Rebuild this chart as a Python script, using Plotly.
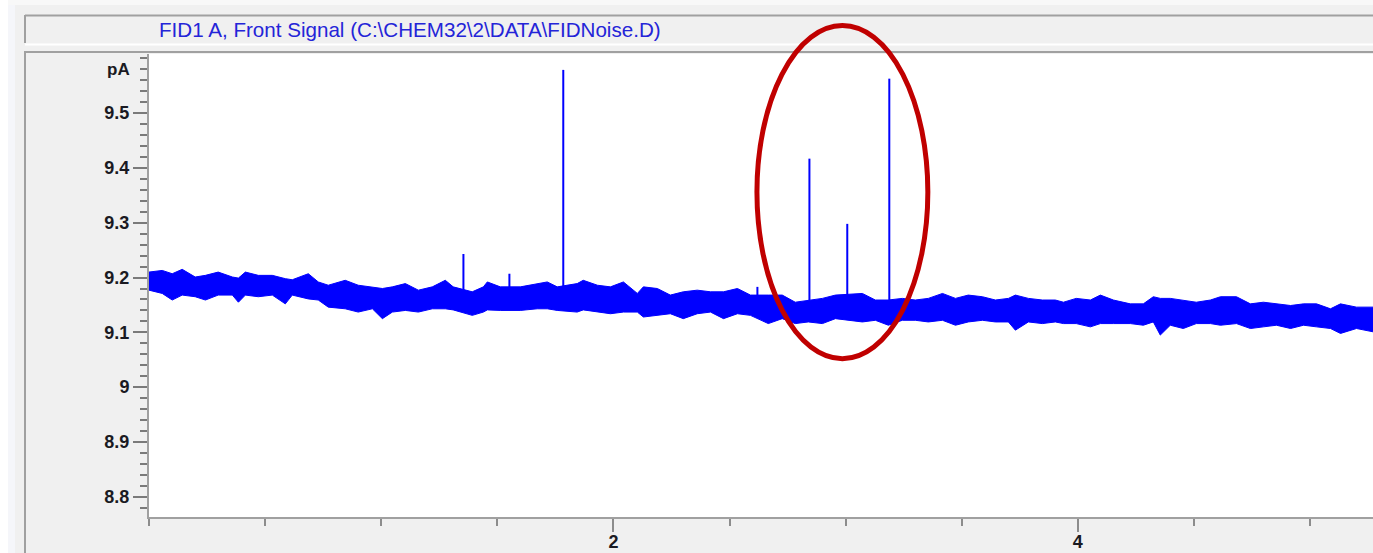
import plotly.graph_objects as go

# ---------------- data ----------------
time_min = [0.000, 0.057, 0.100, 0.143, 0.199, 0.243, 0.298, 0.359, 0.385, 0.415,
            0.471, 0.531, 0.587, 0.617, 0.686, 0.729, 0.772, 0.845, 0.901, 0.962,
            1.005, 1.048, 1.104, 1.160, 1.220, 1.276, 1.310, 1.392, 1.440, 1.457,
            1.513, 1.599, 1.672, 1.715, 1.758, 1.844, 1.870, 1.931, 1.987, 2.043,
            2.103, 2.129, 2.189, 2.245, 2.301, 2.361, 2.418, 2.474, 2.534, 2.590,
            2.667, 2.727, 2.783, 2.839, 2.900, 2.956, 3.072, 3.128, 3.184, 3.244,
            3.300, 3.356, 3.417, 3.473, 3.528, 3.589, 3.645, 3.701, 3.731, 3.787,
            3.847, 3.903, 3.938, 3.993, 4.054, 4.097, 4.153, 4.226, 4.282, 4.325,
            4.355, 4.398, 4.454, 4.510, 4.571, 4.614, 4.683, 4.743, 4.799, 4.855,
            4.916, 4.972, 5.028, 5.088, 5.131, 5.200, 5.271]

noise_upper_pA = [9.210, 9.213, 9.207, 9.215, 9.201, 9.204, 9.210, 9.201, 9.199, 9.210,
                  9.204, 9.204, 9.198, 9.196, 9.207, 9.192, 9.186, 9.195, 9.186, 9.183,
                  9.180, 9.183, 9.189, 9.177, 9.183, 9.195, 9.183, 9.174, 9.183, 9.192,
                  9.183, 9.183, 9.189, 9.192, 9.183, 9.189, 9.195, 9.186, 9.183, 9.192,
                  9.171, 9.183, 9.180, 9.168, 9.174, 9.177, 9.174, 9.174, 9.180, 9.168,
                  9.168, 9.168, 9.155, 9.159, 9.162, 9.168, 9.171, 9.159, 9.159, 9.162,
                  9.159, 9.162, 9.171, 9.162, 9.168, 9.165, 9.159, 9.162, 9.168, 9.162,
                  9.159, 9.159, 9.155, 9.162, 9.159, 9.168, 9.159, 9.152, 9.152, 9.165,
                  9.162, 9.162, 9.159, 9.155, 9.159, 9.165, 9.165, 9.152, 9.155, 9.152,
                  9.149, 9.152, 9.152, 9.143, 9.152, 9.146, 9.146]

noise_lower_pA = [9.177, 9.171, 9.159, 9.168, 9.165, 9.159, 9.168, 9.168, 9.155, 9.168,
                  9.165, 9.168, 9.152, 9.168, 9.161, 9.159, 9.146, 9.143, 9.137, 9.143,
                  9.125, 9.137, 9.140, 9.137, 9.143, 9.143, 9.141, 9.131, 9.137, 9.141,
                  9.140, 9.140, 9.143, 9.143, 9.140, 9.137, 9.141, 9.137, 9.134, 9.137,
                  9.137, 9.128, 9.131, 9.134, 9.125, 9.134, 9.137, 9.125, 9.134, 9.131,
                  9.116, 9.125, 9.116, 9.119, 9.116, 9.125, 9.119, 9.122, 9.113, 9.122,
                  9.122, 9.119, 9.122, 9.113, 9.119, 9.122, 9.119, 9.119, 9.104, 9.119,
                  9.116, 9.119, 9.116, 9.116, 9.110, 9.116, 9.116, 9.116, 9.113, 9.119,
                  9.095, 9.113, 9.107, 9.116, 9.116, 9.113, 9.116, 9.107, 9.110, 9.113,
                  9.107, 9.113, 9.110, 9.107, 9.098, 9.107, 9.101]

spike_time = [1.354, 1.552, 1.784, 2.620, 2.844, 3.007, 3.188]
spike_base_pA = [9.160, 9.160, 9.160, 9.150, 9.140, 9.145, 9.140]
spike_peak_pA = [9.243, 9.207, 9.579, 9.183, 9.417, 9.298, 9.563]

# circled region (annotation), in data units
circle_time = [2.618, 3.354]
circle_pA = [9.052, 9.660]

y_tick_vals = [8.8, 8.9, 9.0, 9.1, 9.2, 9.3, 9.4, 9.5]
y_tick_text = ["8.8", "8.9", "9", "9.1", "9.2", "9.3", "9.4", "9.5"]
x_tick_vals = [2, 4]
x_tick_text = ["2", "4"]

title_text = "FID1 A, Front Signal (C:\\CHEM32\\2\\DATA\\FIDNoise.D)"
unit_text = "pA"

# ---------------- layout geometry ----------------
W, H = 1373, 553
L, T, B, R = 149, 54, 36, 0
PW, PH = W - L - R, H - T - B
x_range = [0.0, 5.271]
y_range = [8.763, 9.608]


def px_x(px):
    """page pixel x -> paper coordinate"""
    return (px - L) / PW


def px_y(py):
    """page pixel y -> paper coordinate"""
    return (H - B - py) / PH


def data_x(t):
    return (t - x_range[0]) / (x_range[1] - x_range[0])


def data_y(v):
    return (v - y_range[0]) / (y_range[1] - y_range[0])


BLUE = "#0000ff"
fig = go.Figure()

fig.add_trace(go.Scatter(x=time_min, y=noise_lower_pA, mode="lines",
                         line=dict(color=BLUE, width=1),
                         hoverinfo="skip", showlegend=False))
fig.add_trace(go.Scatter(x=time_min, y=noise_upper_pA, mode="lines",
                         line=dict(color=BLUE, width=1),
                         fill="tonexty", fillcolor=BLUE,
                         hoverinfo="skip", showlegend=False))

sx, sy = [], []
for t, b, p in zip(spike_time, spike_base_pA, spike_peak_pA):
    sx += [t, t, None]
    sy += [b, p, None]
fig.add_trace(go.Scatter(x=sx, y=sy, mode="lines",
                         line=dict(color=BLUE, width=2),
                         hoverinfo="skip", showlegend=False))

FRAME = "#a0a0a0"
shapes = [
    # outer window edge
    dict(type="rect", xref="paper", yref="paper", x0=px_x(-2), x1=px_x(8), y0=px_y(560), y1=px_y(-2),
         fillcolor="#ffffff", line=dict(width=0), layer="below"),
    dict(type="rect", xref="paper", yref="paper", x0=px_x(8), x1=px_x(15), y0=px_y(560), y1=px_y(5),
         fillcolor="#f5f6fa", line=dict(width=0), layer="below"),
    dict(type="rect", xref="paper", yref="paper", x0=px_x(8), x1=px_x(1380), y0=px_y(5), y1=px_y(-2),
         fillcolor="#f8f8f8", line=dict(width=0), layer="below"),
    # title box (sunken)
    dict(type="line", xref="paper", yref="paper", x0=px_x(25), x1=px_x(1380), y0=px_y(15.5), y1=px_y(15.5),
         line=dict(color=FRAME, width=2)),
    dict(type="line", xref="paper", yref="paper", x0=px_x(25), x1=px_x(25), y0=px_y(15), y1=px_y(43),
         line=dict(color=FRAME, width=2)),
    dict(type="line", xref="paper", yref="paper", x0=px_x(25), x1=px_x(1380), y0=px_y(44.5), y1=px_y(44.5),
         line=dict(color="#ffffff", width=2)),
    # plot panel border
    dict(type="line", xref="paper", yref="paper", x0=px_x(25), x1=px_x(1380), y0=px_y(52), y1=px_y(52),
         line=dict(color=FRAME, width=2)),
    dict(type="line", xref="paper", yref="paper", x0=px_x(25), x1=px_x(25), y0=px_y(51), y1=px_y(560),
         line=dict(color=FRAME, width=2)),
    # red ellipse marking the spikes
    dict(type="circle", xref="paper", yref="paper",
         x0=data_x(circle_time[0]), x1=data_x(circle_time[1]),
         y0=data_y(circle_pA[0]), y1=data_y(circle_pA[1]),
         line=dict(color="#c00000", width=5), layer="above"),
]

annotations = [
    dict(text=title_text, xref="paper", yref="paper", x=px_x(157), y=px_y(30),
         xanchor="left", yanchor="middle", showarrow=False,
         font=dict(family="Liberation Sans, Arial", size=20.6, color="#2424d8")),
    dict(text=unit_text, xref="paper", yref="y", x=px_x(132), y=9.58,
         xanchor="right", yanchor="middle", showarrow=False,
         font=dict(family="Liberation Sans, Arial", size=17, color="#1a1a22", weight="bold")),
]

tickfont = dict(family="Liberation Sans, Arial", size=18, color="#1a1a22", weight="bold")

fig.update_layout(
    width=W, height=H,
    margin=dict(l=L, r=R, t=T, b=B, pad=0, autoexpand=False),
    paper_bgcolor="#f0f0f0", plot_bgcolor="#ffffff",
    shapes=shapes, annotations=annotations,
    showlegend=False,
    xaxis=dict(range=x_range, tickmode="array", tickvals=x_tick_vals, ticktext=x_tick_text,
               ticks="outside", ticklen=13, tickwidth=2, tickcolor="#8c8c8c",
               ticklabelstandoff=-6,
               showline=True, linecolor=FRAME, linewidth=2, mirror=False,
               showgrid=False, zeroline=False, tickfont=tickfont, automargin=False,
               minor=dict(tickmode="linear", tick0=0, dtick=0.5, ticks="outside",
                          ticklen=7, tickwidth=2, tickcolor="#8c8c8c", showgrid=False)),
    yaxis=dict(range=y_range, tickmode="array", tickvals=y_tick_vals, ticktext=y_tick_text,
               ticks="outside", ticklen=14, tickwidth=1.5, tickcolor="#7a7a7a",
               showline=True, linecolor=FRAME, linewidth=2, mirror=False,
               showgrid=False, zeroline=False, tickfont=tickfont, automargin=False,
               minor=dict(tickmode="linear", tick0=8.8, dtick=0.02, ticks="outside",
                          ticklen=7, tickwidth=1.5, tickcolor="#7a7a7a", showgrid=False)),
)

# remove the browser's default 8px body margin so the figure fills the window
fig.write_html("out.html",
               config={"displayModeBar": False},
               post_script="document.body.style.margin='0';document.body.style.overflow='hidden';")
